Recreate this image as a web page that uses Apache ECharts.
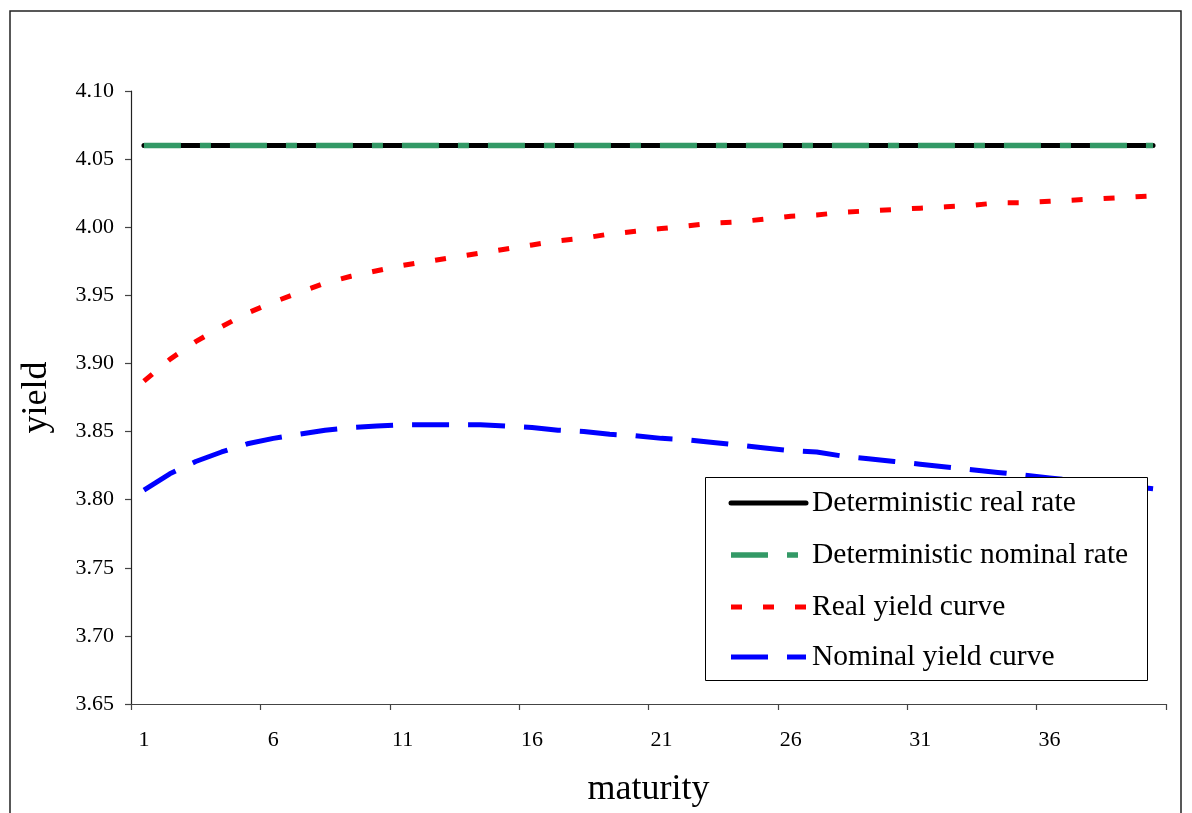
<!DOCTYPE html>
<html>
<head>
<meta charset="utf-8">
<title>Yield curves</title>
<script src="https://cdn.jsdelivr.net/npm/echarts@6/dist/echarts.min.js"></script>
<style>
  html, body { margin: 0; padding: 0; background: #fff; }
  #chart { width: 1192px; height: 813px; }
</style>
</head>
<body>
<div id="chart"></div>
<script>
// Maturities 1..40
const maturities = Array.from({ length: 40 }, (_, i) => String(i + 1));

// Flat deterministic rates
const deterministicReal = Array(40).fill(4.06);
const deterministicNominal = Array(40).fill(4.06);

// Real yield curve
const realYield = [
  3.887, 3.903, 3.916, 3.927, 3.937, 3.945, 3.952, 3.959, 3.964, 3.968,
  3.972, 3.975, 3.978, 3.981, 3.984, 3.987, 3.990, 3.992, 3.995, 3.997,
  3.999, 4.001, 4.003, 4.004, 4.006, 4.008, 4.009, 4.011, 4.012, 4.013,
  4.014, 4.015, 4.016, 4.018, 4.018, 4.019, 4.020, 4.021, 4.022, 4.023
];

// Nominal yield curve
const nominalYield = [
  3.807, 3.819, 3.828, 3.835, 3.841, 3.845, 3.848, 3.851, 3.853, 3.854,
  3.855, 3.855, 3.855, 3.855, 3.854, 3.853, 3.851, 3.850, 3.848, 3.847,
  3.845, 3.844, 3.842, 3.840, 3.838, 3.836, 3.835, 3.832, 3.830, 3.828,
  3.826, 3.824, 3.822, 3.820, 3.818, 3.816, 3.814, 3.812, 3.810, 3.808
];

const seriesNames = [
  'Deterministic real rate',
  'Deterministic nominal rate',
  'Real yield curve',
  'Nominal yield curve'
];

const FONT = 'Liberation Serif';

// Line styles shared by the plotted series and the legend keys
const styles = [
  { color: '#000000', width: 5, dash: null, cap: 'round' },
  { color: '#339966', width: 5.5, dash: [37, 19, 11, 19], cap: 'butt' },
  { color: '#ff0000', width: 5, dash: [11, 21], cap: 'butt' },
  { color: '#0000ff', width: 5, dash: [37, 19], cap: 'butt' }
];

// Legend box drawn as graphic elements
const legendBox = { x: 705, y: 477, w: 442, h: 203 };
const legendRows = [503, 555, 607, 657];
const legendGraphic = [{
  type: 'rect',
  shape: { x: legendBox.x + 0.5, y: legendBox.y + 0.5, width: legendBox.w, height: legendBox.h },
  style: { fill: '#fff', stroke: '#000', lineWidth: 1 },
  z: 10
}];
seriesNames.forEach((name, i) => {
  const s = styles[i];
  legendGraphic.push({
    type: 'line',
    shape: { x1: 731, y1: legendRows[i], x2: 806, y2: legendRows[i] },
    style: { stroke: s.color, lineWidth: s.width, lineDash: s.dash, lineCap: s.cap },
    z: 11
  });
  legendGraphic.push({
    type: 'text',
    x: 812,
    y: legendRows[i],
    style: {
      text: name,
      fontFamily: FONT,
      fontSize: 29.5,
      fill: '#000',
      verticalAlign: 'middle',
      align: 'left'
    },
    z: 11
  });
});

const chart = echarts.init(document.getElementById('chart'), null, { renderer: 'canvas' });

chart.setOption({
  backgroundColor: '#ffffff',
  animation: false,
  textStyle: { fontFamily: FONT, color: '#000' },
  graphic: [{
    type: 'rect',
    shape: { x: 10, y: 11, width: 1171, height: 830 },
    style: { fill: 'none', stroke: '#222', lineWidth: 1.5 },
    silent: true,
    z: -1
  }].concat(legendGraphic),
  grid: { left: 131, right: 26, top: 91, bottom: 104, containLabel: false },
  xAxis: {
    type: 'category',
    data: maturities,
    boundaryGap: true,
    name: 'maturity',
    nameLocation: 'middle',
    nameGap: 68,
    nameTextStyle: { fontFamily: FONT, fontSize: 36, color: '#000' },
    axisLine: { lineStyle: { color: '#444', width: 1.2 } },
    axisTick: { show: true, interval: 4, length: 6, lineStyle: { color: '#444', width: 1.2 } },
    axisLabel: { interval: 4, margin: 25, fontFamily: FONT, fontSize: 22, color: '#000' },
    splitLine: { show: false }
  },
  yAxis: {
    type: 'value',
    min: 3.65,
    max: 4.10,
    interval: 0.05,
    name: 'yield',
    nameLocation: 'middle',
    nameGap: 76,
    nameRotate: 90,
    nameTextStyle: { fontFamily: FONT, fontSize: 36, color: '#000' },
    axisLine: { show: true, lineStyle: { color: '#222', width: 1.2 } },
    axisTick: { show: true, length: 6, lineStyle: { color: '#444', width: 1.2 } },
    axisLabel: {
      margin: 17,
      fontFamily: FONT,
      fontSize: 22,
      color: '#000',
      formatter: v => v.toFixed(2)
    },
    splitLine: { show: false }
  },
  series: seriesNames.map((name, i) => ({
    name,
    type: 'line',
    data: [deterministicReal, deterministicNominal, realYield, nominalYield][i],
    symbol: 'none',
    color: styles[i].color,
    lineStyle: {
      color: styles[i].color,
      width: styles[i].width,
      type: styles[i].dash || 'solid',
      cap: styles[i].cap
    },
    z: i === 0 ? 2 : 3
  }))
});
</script>
</body>
</html>
